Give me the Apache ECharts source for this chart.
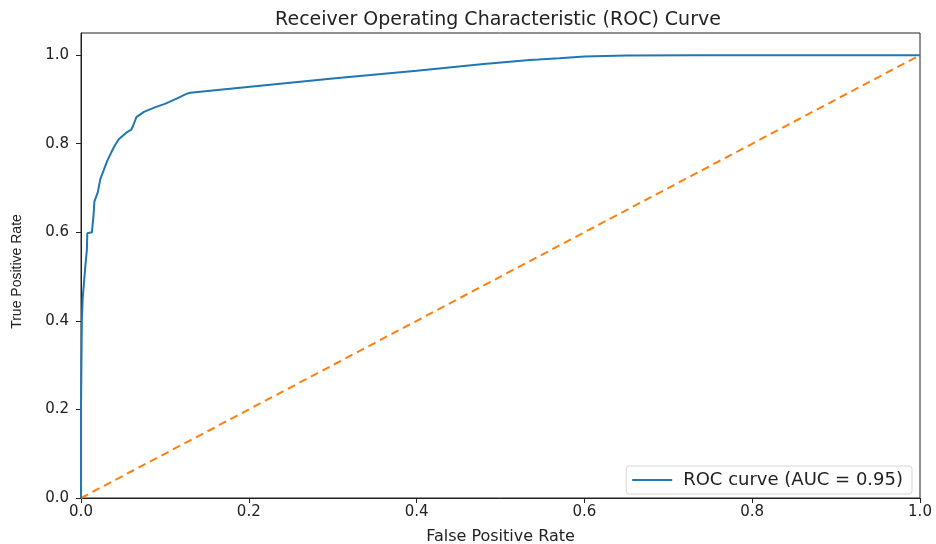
<!DOCTYPE html>
<html>
<head>
<meta charset="utf-8">
<title>ROC Curve</title>
<script src="https://cdn.jsdelivr.net/npm/echarts@6/dist/echarts.min.js"></script>
<style>
  html, body { margin: 0; padding: 0; background: #fff; }
  #chart { width: 936px; height: 544px; }
</style>
</head>
<body>
<div id="chart"></div>
<script>
// ROC curve points: [false positive rate, true positive rate]
const rocPoints = [
  [0, 0], [0, 0.2], [0.001, 0.4], [0.002, 0.45], [0.005, 0.52], [0.007, 0.56],
  [0.0075, 0.598], [0.013, 0.6], [0.015, 0.64], [0.016, 0.67], [0.02, 0.69],
  [0.023, 0.72], [0.027, 0.74], [0.031, 0.76], [0.036, 0.78], [0.04, 0.795],
  [0.045, 0.81], [0.054, 0.825], [0.06, 0.832], [0.062, 0.84], [0.066, 0.86],
  [0.075, 0.872], [0.088, 0.882], [0.1, 0.89], [0.114, 0.902], [0.125, 0.912],
  [0.13, 0.915], [0.3, 0.947], [0.4, 0.965], [0.48, 0.98], [0.535, 0.989],
  [0.545, 0.99], [0.57, 0.993], [0.6, 0.997], [0.65, 0.999], [0.73, 1.0], [1, 1]
]
const chancePoints = [[0, 0], [1, 1]]
const tickValues = [0, 0.2, 0.4, 0.6, 0.8, 1.0]
const seriesName = 'ROC curve (AUC = 0.95)'

const font = 'DejaVu Sans'
const textColor = '#222'
const myChart = echarts.init(document.getElementById('chart'))

const option = {
  backgroundColor: '#fff',
  animation: false,
  title: {
    text: 'Receiver Operating Characteristic (ROC) Curve',
    left: 493,
    top: 6,
    textAlign: 'center',
    textStyle: { fontFamily: font, fontSize: 19, fontWeight: 'normal', color: textColor }
  },
  grid: {
    left: 81, right: 16, top: 33, bottom: 46,
    containLabel: false,
    outerBoundsMode: 'none',
    show: true, borderColor: '#222', borderWidth: 1
  },
  legend: {
    data: [seriesName],
    right: 24,
    bottom: 50,
    icon: 'rect',
    itemWidth: 40,
    itemHeight: 2,
    itemGap: 10,
    padding: [5, 9, 5, 6],
    borderColor: '#d6d6d6',
    borderWidth: 1,
    borderRadius: 3,
    textStyle: { fontFamily: font, fontSize: 18, color: textColor, padding: [0, 0, 0, 6] }
  },
  xAxis: {
    type: 'value',
    min: 0,
    max: 1,
    interval: 0.2,
    name: 'False Positive Rate',
    nameLocation: 'middle',
    nameGap: 31,
    nameTextStyle: { fontFamily: font, fontSize: 16, color: textColor },
    axisLine: { show: true, onZero: false, lineStyle: { color: '#222', width: 1 } },
    axisTick: { show: true, length: 5, lineStyle: { color: '#222' }, customValues: tickValues },
    axisLabel: {
      fontFamily: font, fontSize: 15, color: textColor, margin: 7,
      customValues: tickValues,
      formatter: v => v.toFixed(1)
    },
    splitLine: { show: false }
  },
  yAxis: {
    type: 'value',
    min: 0,
    max: 1.05,
    interval: 0.2,
    name: 'True Positive Rate',
    nameLocation: 'middle',
    nameGap: 57,
    nameTextStyle: { fontFamily: 'Liberation Sans Narrow, Liberation Sans', fontSize: 14, color: textColor, padding: [0, 12, 0, 0] },
    axisLine: { show: true, onZero: false, lineStyle: { color: '#222', width: 1 } },
    axisTick: { show: true, length: 5, lineStyle: { color: '#222' }, customValues: tickValues },
    axisLabel: {
      fontFamily: font, fontSize: 15, color: textColor, margin: 12,
      customValues: tickValues,
      formatter: v => v.toFixed(1)
    },
    splitLine: { show: false }
  },
  series: [
    {
      name: seriesName,
      type: 'line',
      data: rocPoints,
      showSymbol: false,
      symbol: 'none',
      color: '#1f77b4',
      lineStyle: { color: '#1f77b4', width: 2 },
      z: 3
    },
    {
      name: 'chance',
      type: 'line',
      data: chancePoints,
      showSymbol: false,
      symbol: 'none',
      color: '#ff7f0e',
      lineStyle: { color: '#ff7f0e', width: 2, type: [8, 5] },
      z: 2
    }
  ]
}

myChart.setOption(option)
window.addEventListener('resize', () => { myChart.resize() })
</script>
</body>
</html>
